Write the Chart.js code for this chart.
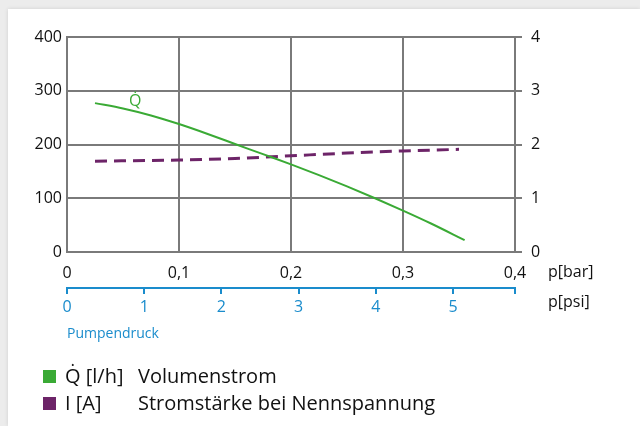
<!DOCTYPE html>
<html>
<head>
<meta charset="utf-8">
<script src="https://cdn.jsdelivr.net/npm/chart.js@4.4.0/dist/chart.umd.min.js"></script>
<style>
html,body{margin:0;padding:0;background:#ececec;}
#wrap{position:absolute;left:8px;top:9px;width:632px;height:417px;background:#fff;box-shadow:0 0 4px rgba(0,0,0,0.12);}
#myChart{position:absolute;left:-8px;top:-9px;}
</style>
</head>
<body>
<div id="wrap"><canvas id="myChart" width="640" height="426"></canvas></div>
<script>
// pressure in bar, flow in l/h, current in A
const flowPressure = [0.025,0.05,0.075,0.1,0.125,0.15,0.175,0.2,0.225,0.25,0.275,0.3,0.325,0.355];
const flowValues   = [277,267,254,238,220,201,182,163,143,122,100,77,53,22];
const currentPressure = [0.025,0.1,0.15,0.2,0.25,0.3,0.35];
const currentValues   = [1.69,1.71,1.74,1.79,1.84,1.88,1.91];
const psiTicks = [0,1,2,3,4,5];
const seriesSymbols = ['Q\u0307 [l/h]','I [A]'];
const seriesNames = ['Volumenstrom','Stromst\u00e4rke bei Nennspannung'];
const seriesColors = ['#3aaa35','#6d2468'];
const barToPsi = 14.5038;

const font = "'Open Sans', 'Noto Sans', sans-serif";
const gridGrey = '#7a7a7a';
const blue = '#1a8ccc';

const pts=(xs,ys)=>xs.map((x,i)=>({x:x,y:ys[i]}));

const extraText = {
    id:'extraText',
    afterDraw(chart){
        const c = chart.ctx;
        const x = chart.scales.x, y = chart.scales.y;
        c.save();
        c.font = '16px ' + font;
        c.fillStyle = '#111';
        c.textBaseline = 'middle';
        c.textAlign = 'left';
        c.fillText('p[bar]', 548, 272);
        c.fillText('p[psi]', 548, 302);
        // Q label near the curve
        c.fillStyle = seriesColors[0];
        c.textAlign = 'center';
        c.fillText(seriesSymbols[0].split(' ')[0], x.getPixelForValue(0.061), y.getPixelForValue(281));
        // legend
        c.font = '20px ' + font;
        c.textAlign = 'left';
        seriesSymbols.forEach((s,i)=>{
            const ly = 377 + i*27;
            c.fillStyle = seriesColors[i];
            c.fillRect(43, ly-7, 13, 13);
            c.fillStyle = '#111';
            c.fillText(s, 65, ly);
            c.fillText(seriesNames[i], 138, ly);
        });
        c.restore();
    }
};

const ctx = document.getElementById('myChart').getContext('2d');
const myChart = new Chart(ctx, {
    type: 'line',
    data: {
        datasets: [{
            label: seriesNames[0],
            data: pts(flowPressure, flowValues),
            borderColor: seriesColors[0],
            borderWidth: 2,
            pointRadius: 0,
            cubicInterpolationMode: 'monotone',
            yAxisID: 'y'
        },{
            label: seriesNames[1],
            data: pts(currentPressure, currentValues),
            borderColor: seriesColors[1],
            borderWidth: 3,
            borderDash: [12,7],
            pointRadius: 0,
            cubicInterpolationMode: 'monotone',
            yAxisID: 'y1'
        }]
    },
    options: {
        responsive: false,
        animation: false,
        layout: {padding: {left: 0, right: 0, top: 37, bottom: 84}},
        plugins: {legend: {display: false}, tooltip: {enabled: false}},
        scales: {
            x: {
                type: 'linear', position: 'bottom', min: 0, max: 0.4,
                afterFit: s => { s.height = 36; },
                grid: {color: gridGrey, lineWidth: 2, drawTicks: false},
                border: {color: gridGrey, width: 2},
                ticks: {stepSize: 0.1, padding: 12, color: '#111', font: {family: font, size: 16},
                    callback: v => v === 0 ? '0' : v.toFixed(1).replace('.', ',')}
            },
            psi: {
                type: 'linear', position: 'bottom', min: 0, max: 0.4 * barToPsi,
                afterFit: s => { s.height = 54; },
                afterBuildTicks: s => { s.ticks = psiTicks.concat([0.4 * barToPsi]).map(v => ({value: v})); },
                grid: {drawOnChartArea: false, color: blue, lineWidth: 2, tickLength: 6},
                border: {color: blue, width: 2},
                ticks: {autoSkip: false, maxRotation: 0, padding: 4, color: blue, font: {family: font, size: 16},
                    callback: v => Number.isInteger(v) ? String(v) : ''},
                title: {display: true, text: 'Pumpendruck', align: 'start', color: blue,
                    font: {family: font, size: 14}, padding: {top: 4, bottom: 0}}
            },
            y: {
                position: 'left', min: 0, max: 400,
                afterFit: s => { s.width = 67; },
                grid: {color: gridGrey, lineWidth: 2, drawTicks: false},
                border: {color: gridGrey, width: 2},
                ticks: {stepSize: 100, padding: 5, color: '#111', font: {family: font, size: 16}}
            },
            y1: {
                position: 'right', min: 0, max: 4,
                afterFit: s => { s.width = 125; },
                grid: {drawOnChartArea: false, color: gridGrey, lineWidth: 2, tickLength: 7},
                border: {color: gridGrey, width: 2},
                ticks: {stepSize: 1, padding: 9, color: '#111', font: {family: font, size: 16}}
            }
        }
    },
    plugins: [extraText]
});
</script>
</body>
</html>
